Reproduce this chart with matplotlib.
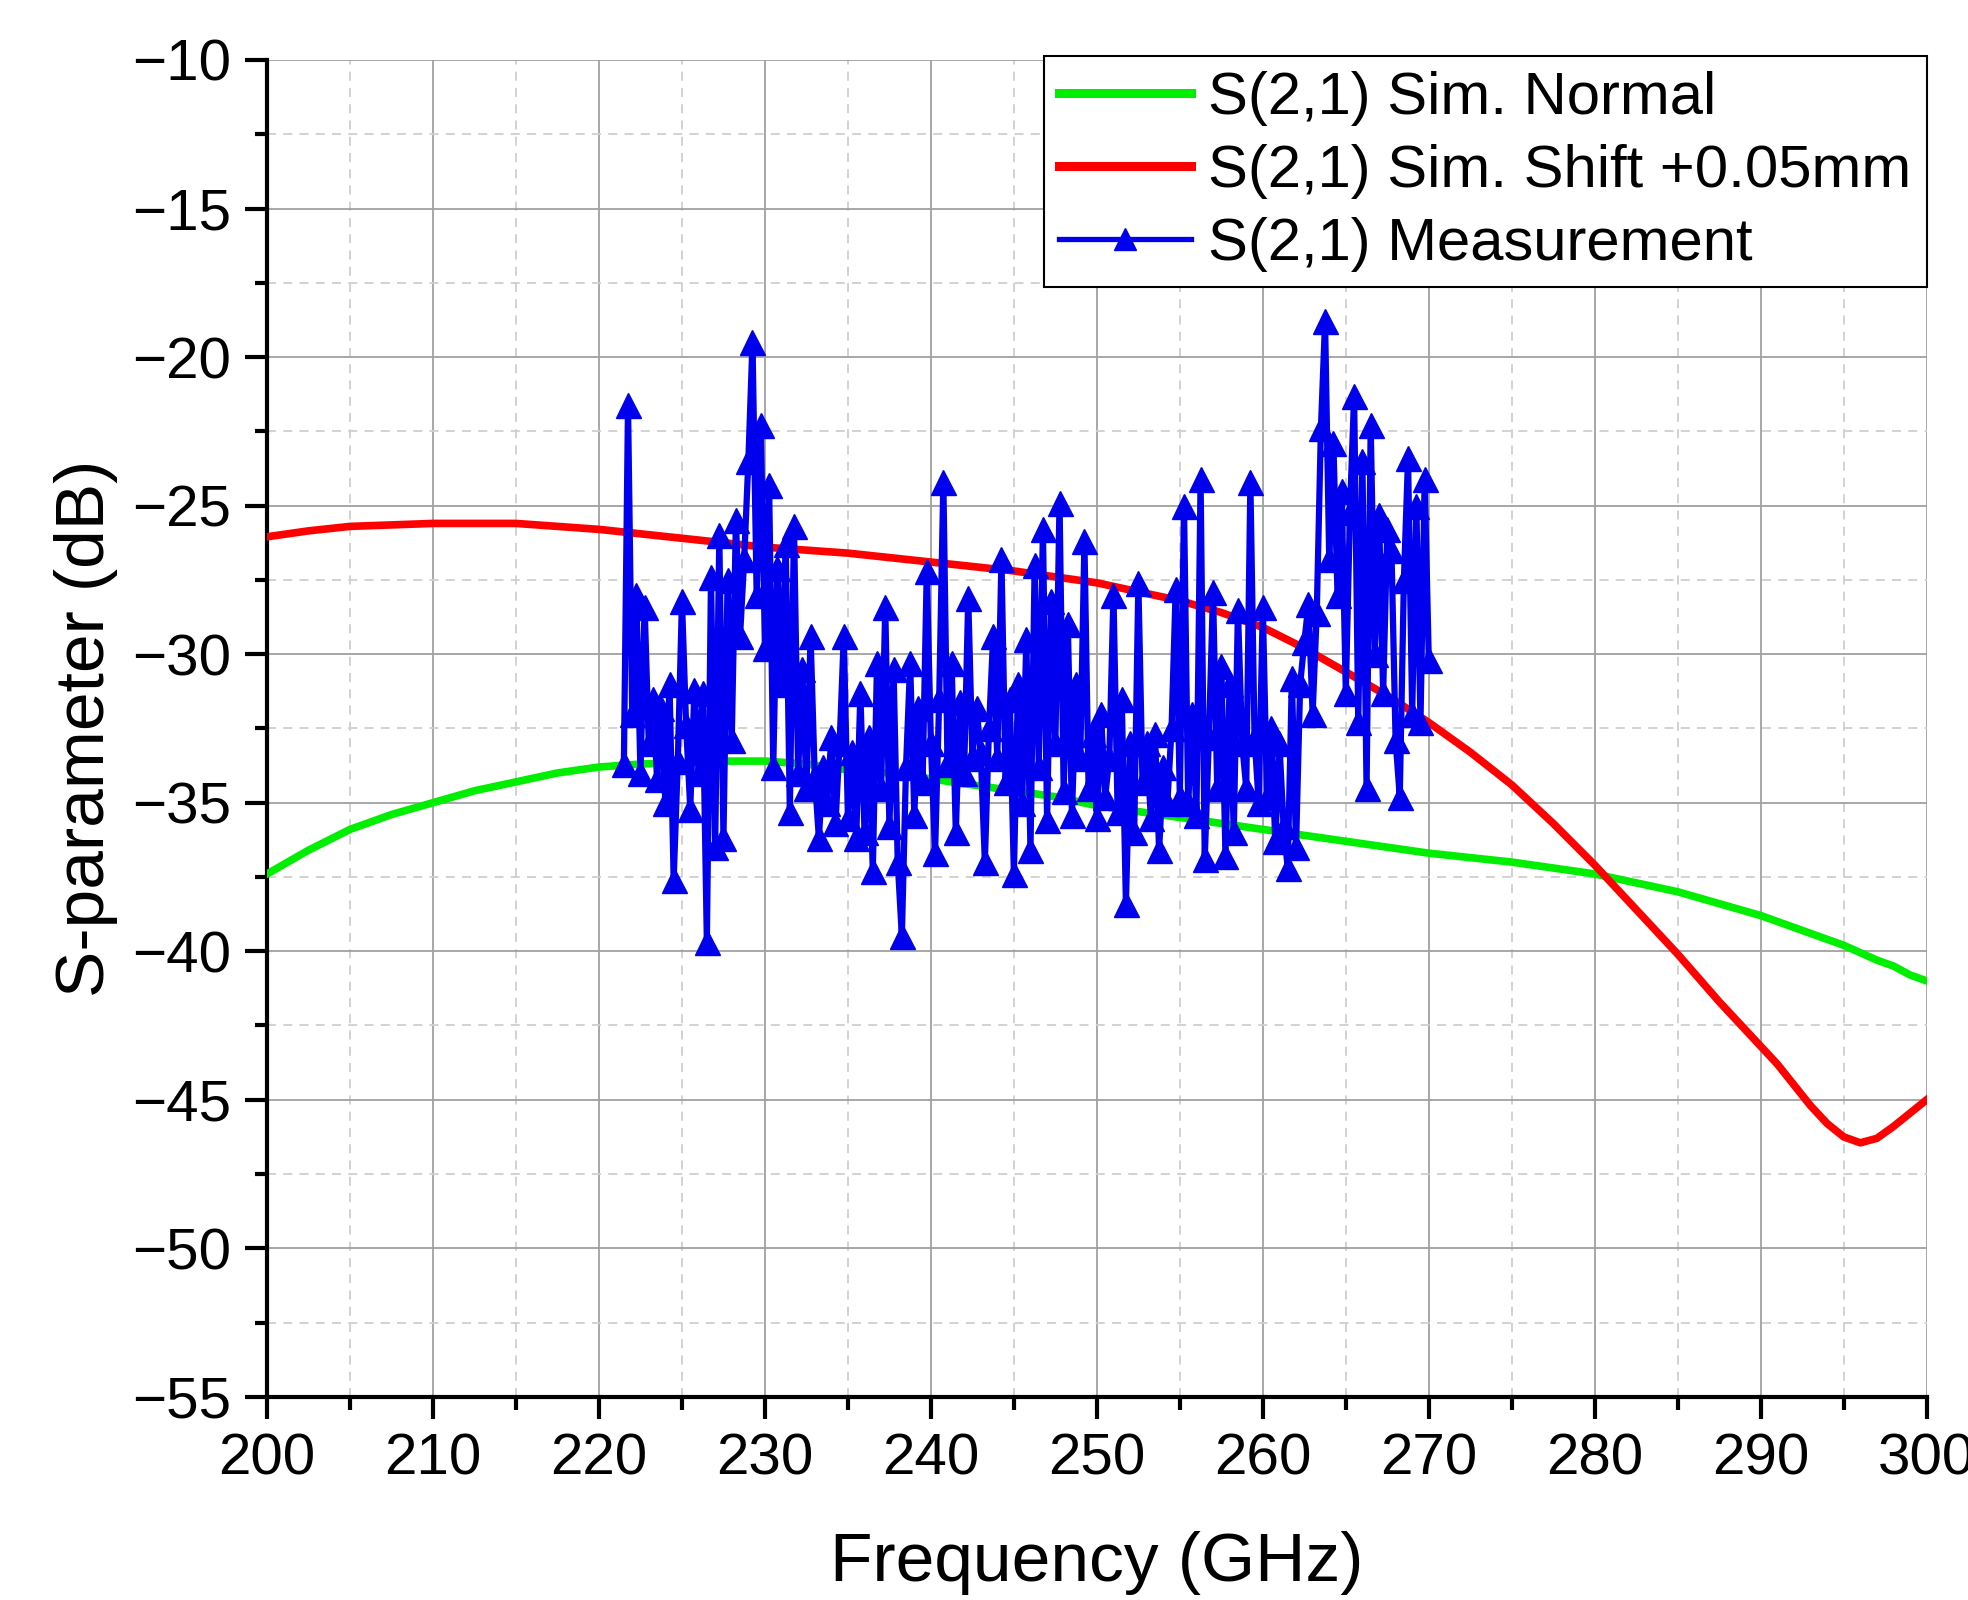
import numpy as np
import matplotlib
matplotlib.use("Agg")
import matplotlib.pyplot as plt
from matplotlib.ticker import MultipleLocator

plt.rcParams['font.family'] = ['Liberation Sans', 'DejaVu Sans']

# simulated curves (GHz, dB)
sim_f = [200, 202.5, 205, 207.5, 210, 212.5, 215, 217.5, 220, 222.5, 225, 227.5, 230,
         232.5, 235, 237.5, 240, 242.5, 245, 247.5, 250, 252.5, 255, 257.5, 260, 262.5,
         265, 267.5, 270, 272.5, 275, 277.5, 280, 282.5, 285, 287.5, 290, 291, 292, 293,
         294, 295, 296, 297, 298, 299, 300]
normal_db = [-37.4, -36.6, -35.9, -35.4, -35.0, -34.6, -34.3, -34.0, -33.8, -33.7, -33.65,
             -33.6, -33.6, -33.7, -33.9, -34.0, -34.2, -34.4, -34.6, -34.8, -35.1, -35.3,
             -35.5, -35.7, -35.9, -36.1, -36.3, -36.5, -36.7, -36.85, -37.0, -37.2, -37.4,
             -37.7, -38.0, -38.4, -38.8, -39.0, -39.2, -39.4, -39.6, -39.8, -40.05, -40.3,
             -40.5, -40.8, -41.0]
shift_db = [-26.05, -25.85, -25.7, -25.65, -25.6, -25.6, -25.6, -25.7, -25.8, -25.95,
            -26.1, -26.25, -26.4, -26.5, -26.6, -26.75, -26.9, -27.05, -27.2, -27.4, -27.6,
            -27.9, -28.2, -28.6, -29.1, -29.8, -30.6, -31.4, -32.3, -33.3, -34.4, -35.7,
            -37.1, -38.6, -40.1, -41.7, -43.2, -43.8, -44.5, -45.2, -45.8, -46.25, -46.45,
            -46.3, -45.9, -45.45, -45.0]

# measurement, 0.25 GHz steps starting at 221.5 GHz
meas_start = 221.5
meas_step = 0.25
meas_db = [
    -33.7, -21.6,
    -32.0, -28.0, -34.0, -28.4,  # 222
    -33.0, -31.5, -34.2, -31.8,  # 223
    -35.0, -31.0, -37.6, -33.6,  # 224
    -28.2, -32.4, -35.2, -31.2,  # 225
    -34.0, -31.3, -39.7, -27.4,  # 226
    -36.5, -26.0, -36.2, -27.5,  # 227
    -32.9, -25.5, -29.4, -26.8,  # 228
    -23.5, -19.5, -28.0, -22.3,  # 229
    -29.8, -24.3, -33.8, -27.1,  # 230
    -31.0, -26.3, -35.3, -25.7,  # 231
    -34.0, -30.5, -34.5, -29.4,  # 232
    -34.1, -36.2, -33.8, -35.0,  # 233
    -32.8, -35.7, -33.0, -29.4,  # 234
    -35.5, -33.3, -36.2, -31.3,  # 235
    -36.0, -32.8, -37.3, -30.3,  # 236
    -34.5, -28.4, -35.8, -30.5,  # 237
    -37.0, -39.5, -33.8, -30.3,  # 238
    -35.4, -31.8, -34.3, -27.2,  # 239
    -33.0, -36.7, -31.5, -24.2,  # 240
    -33.7, -30.3, -36.0, -31.6,  # 241
    -34.0, -28.1, -33.5, -31.8,  # 242
    -33.3, -37.0, -32.5, -29.4,  # 243
    -33.5, -26.8, -34.3, -31.5,  # 244
    -37.4, -31.0, -35.0, -29.5,  # 245
    -36.6, -27.0, -33.8, -25.8,  # 246
    -35.6, -28.2, -33.0, -24.9,  # 247
    -34.6, -29.0, -35.4, -31.0,  # 248
    -33.5, -26.2, -34.5, -32.7,  # 249
    -35.5, -32.0, -34.8, -33.5,  # 250
    -28.0, -35.3, -31.5, -38.4,  # 251
    -33.0, -36.0, -27.6, -34.3,  # 252
    -33.0, -35.5, -32.7, -36.6,  # 253
    -33.8, -35.0, -32.5, -27.8,  # 254
    -34.8, -25.0, -35.0, -32.0,  # 255
    -35.4, -24.1, -36.9, -32.8,  # 256
    -27.9, -34.5, -30.4, -36.8,  # 257
    -31.0, -36.0, -28.5, -33.0,  # 258
    -34.5, -24.2, -32.8, -35.0,  # 259
    -28.4, -34.8, -32.5, -36.3,  # 260
    -33.0, -35.8, -37.2, -30.8,  # 261
    -36.5, -31.0, -29.6, -28.3,  # 262
    -32.0, -28.6, -22.4, -18.8,  # 263
    -26.8, -22.9, -28.0, -24.5,  # 264
    -31.3, -25.2, -21.3, -32.3,  # 265
    -23.5, -34.5, -22.3, -30.0,  # 266
    -25.3, -31.3, -25.8, -26.5,  # 267
    -32.9, -34.8, -27.5, -23.4,  # 268
    -32.0, -25.0, -32.3, -24.1,  # 269
    -30.2,
]
meas_f = meas_start + meas_step * np.arange(len(meas_db))

fig = plt.figure(figsize=(19.68, 16), dpi=100)
ax = fig.add_axes([0.1357, 0.127, 0.8433, 0.8355])

ax.plot(sim_f, normal_db, color='#00ee00', lw=5.5, label='S(2,1) Sim. Normal', zorder=3)
ax.plot(sim_f, shift_db, color='#ff0000', lw=5.5, label='S(2,1) Sim. Shift +0.05mm', zorder=3)
ax.plot(meas_f, meas_db, color='#0000ee', lw=4.5, marker='^', markersize=18,
        label='S(2,1) Measurement', zorder=4)

ax.set_xlim(200, 300)
ax.set_ylim(-55, -10)
ax.xaxis.set_major_locator(MultipleLocator(10))
ax.xaxis.set_minor_locator(MultipleLocator(5))
ax.yaxis.set_major_locator(MultipleLocator(5))
ax.yaxis.set_minor_locator(MultipleLocator(2.5))

ax.grid(which='major', color='#a0a0a0', lw=1.3, ls='-', zorder=0)
ax.grid(which='minor', color='#cfcfcf', lw=1.3, ls=(0, (5, 4)), zorder=0)
ax.set_axisbelow(True)

for s in ['top', 'right']:
    ax.spines[s].set_visible(False)
for s in ['left', 'bottom']:
    ax.spines[s].set_linewidth(3)

ax.tick_params(which='major', direction='out', length=16, width=3, labelsize=42, pad=10)
ax.tick_params(which='minor', direction='out', length=9, width=3)

ax.set_xlabel('Frequency (GHz)', fontsize=50, labelpad=32)
ax.set_ylabel('S-parameter (dB)', fontsize=50, labelpad=10)

leg = ax.legend(loc='upper right', fontsize=43, frameon=True, fancybox=False,
                edgecolor='black', framealpha=1, handlelength=2.2, borderpad=0.25,
                labelspacing=0.3, handletextpad=0.3, borderaxespad=0,
                bbox_to_anchor=(1.0, 1.003))
leg.get_frame().set_linewidth(1.5)
for line in leg.get_lines():
    line.set_linewidth(6.5 if line.get_marker() != '^' else 3.8)
    if line.get_marker() == '^':
        line.set_markevery([1])
        line.set_markersize(16)

fig.savefig('out.png', dpi=100)
